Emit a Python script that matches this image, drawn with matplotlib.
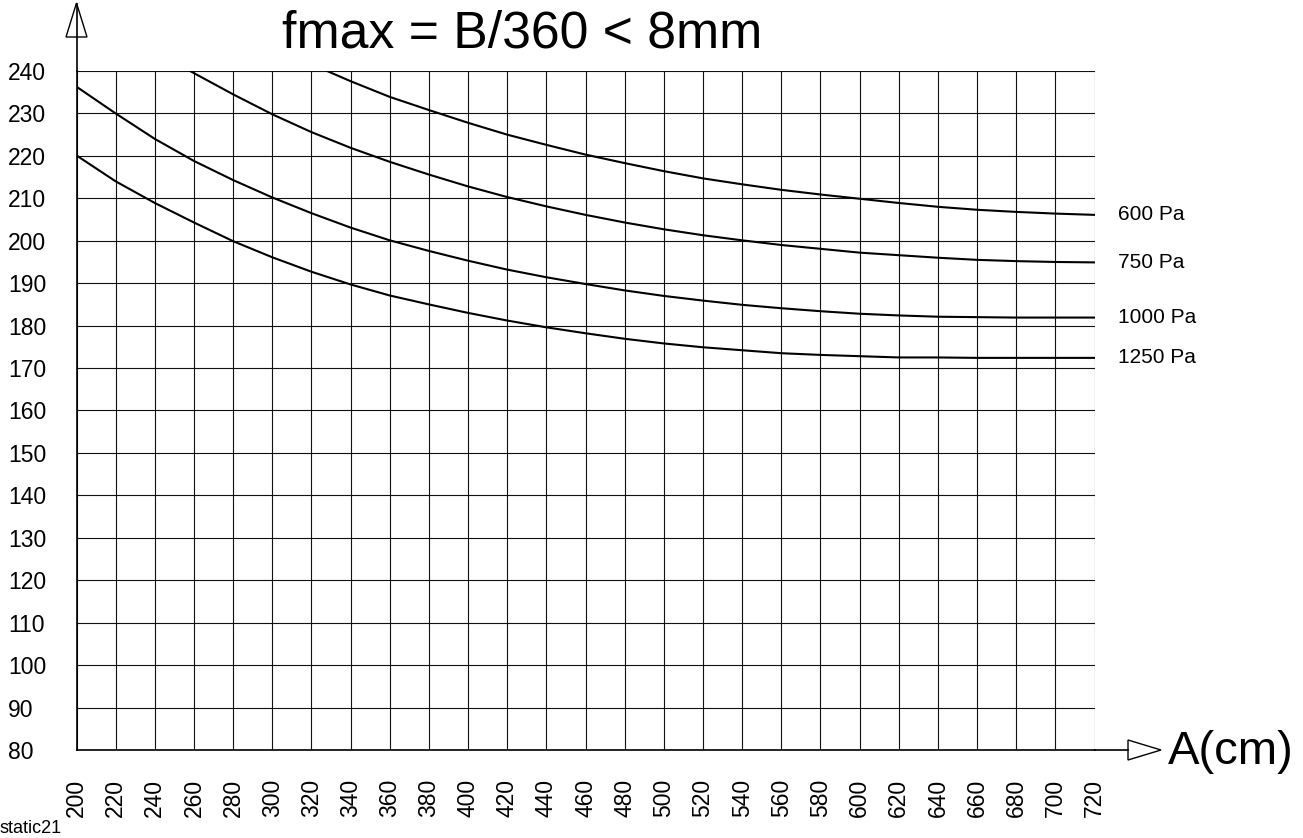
import matplotlib
matplotlib.use("Agg")
import matplotlib.pyplot as plt
from matplotlib.patches import Polygon

plt.rcParams['font.family'] = ['Liberation Sans', 'DejaVu Sans']

# curve data (A in cm, B in cm)
x_600 = [328, 340, 360, 380, 400, 420, 440, 460, 480, 500, 520, 540, 560, 580, 600, 620, 640, 660, 680, 700, 720]
y_600 = [240, 237.6, 233.9, 230.8, 227.8, 225.0, 222.6, 220.3, 218.3, 216.4, 214.7, 213.3, 212.0, 210.9, 209.9, 208.9, 208.0, 207.3, 206.8, 206.4, 206.1]

x_750 = [258, 280, 300, 320, 340, 360, 380, 400, 420, 440, 460, 480, 500, 520, 540, 560, 580, 600, 620, 640, 660, 680, 700, 720]
y_750 = [240, 234.5, 229.8, 225.6, 221.9, 218.6, 215.6, 212.8, 210.3, 208.1, 206.1, 204.3, 202.7, 201.3, 200.1, 199.0, 198.1, 197.2, 196.6, 196.0, 195.5, 195.2, 195.0, 194.9]

x_1000 = [200, 220, 240, 260, 280, 300, 320, 340, 360, 380, 400, 420, 440, 460, 480, 500, 520, 540, 560, 580, 600, 620, 640, 660, 680, 700, 720]
y_1000 = [236.3, 230.0, 224.0, 218.8, 214.3, 210.2, 206.5, 203.1, 200.1, 197.6, 195.3, 193.2, 191.4, 189.8, 188.3, 187.0, 185.9, 184.9, 184.1, 183.4, 182.8, 182.4, 182.1, 182.0, 181.9, 181.9, 181.9]

x_1250 = [200, 220, 240, 260, 280, 300, 320, 340, 360, 380, 400, 420, 440, 460, 480, 500, 520, 540, 560, 580, 600, 620, 640, 660, 680, 700, 720]
y_1250 = [220.1, 214.0, 208.9, 204.3, 199.9, 196.1, 192.7, 189.7, 187.1, 185.0, 183.0, 181.2, 179.6, 178.2, 176.9, 175.8, 174.9, 174.2, 173.5, 173.1, 172.8, 172.5, 172.5, 172.4, 172.4, 172.4, 172.4]

curves = [
    ("600 Pa", x_600, y_600),
    ("750 Pa", x_750, y_750),
    ("1000 Pa", x_1000, y_1000),
    ("1250 Pa", x_1250, y_1250),
]

x_ticks = list(range(200, 721, 20))
y_ticks = list(range(80, 241, 10))

W, H = 1303, 838
fig = plt.figure(figsize=(W / 100, H / 100), dpi=100)
ax = fig.add_axes([76.5 / W, (H - 750) / H, 1018 / W, 679 / H])
ax.set_xlim(200, 720)
ax.set_ylim(80, 240)

ax.set_xticks(x_ticks)
ax.set_yticks(y_ticks)
ax.grid(True, color='#111111', lw=0.8)
ax.tick_params(axis='both', length=0, labelsize=16.5)
ax.tick_params(axis='x', pad=21, labelrotation=90)
ax.tick_params(axis='y', pad=49.3)
for lab in ax.get_yticklabels():
    lab.set_horizontalalignment('left')

for side in ['top', 'right']:
    ax.spines[side].set_visible(False)
for side in ['left', 'bottom']:
    ax.spines[side].set_linewidth(1.2)

for name, xs, ys in curves:
    ax.plot(xs, ys, color='black', lw=1.5, solid_joinstyle='round')
    ax.text(732, ys[-1], name, fontsize=15, va='center', ha='left')

# axis arrows (pixel -> data helper)
def px(xp, yp):
    return (200 + (xp - 76.5) / 1018 * 520, 80 + (750 - yp) / 679 * 160)

ax.plot(*zip(px(76.5, 71), px(76.5, 4)), color='black', lw=1.2, clip_on=False)
ax.add_patch(Polygon([px(76.5, 3), px(66, 37), px(87, 37)], closed=True,
                     fill=False, edgecolor='black', lw=1.0, clip_on=False))
ax.plot(*zip(px(1094.5, 750), px(1128, 750)), color='black', lw=1.2, clip_on=False)
ax.add_patch(Polygon([px(1128, 740), px(1128, 760), px(1161, 750)], closed=True,
                     fill=False, edgecolor='black', lw=1.0, clip_on=False))

fig.text(1168 / W, 1 - 752 / H, "A(cm)", fontsize=34, ha='left', va='center')
fig.text(522 / W, 1 - 47 / H, "fmax = B/360 < 8mm", fontsize=37.3, ha='center', va='baseline')
fig.text(75 / W, 1 + 10 / H, "B(cm)", fontsize=34, ha='left', va='baseline')
fig.text(0, 1 - 833 / H, "static21", fontsize=13, ha='left', va='baseline')

fig.savefig("out.png", dpi=100)
